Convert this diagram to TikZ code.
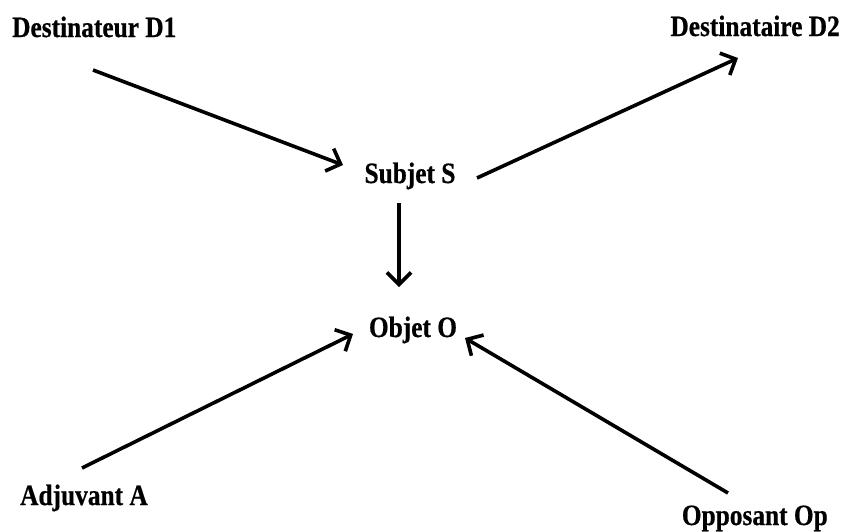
\documentclass[tikz,border=0pt]{standalone}
\usepackage{fontspec}
\usetikzlibrary{arrows.meta}
\newfontfamily\labfont[FakeStretch=0.86,FakeBold=0.6]{Liberation Serif}
\tikzset{
  actant/.style={inner sep=0pt, font=\labfont\bfseries\fontsize{29.5}{31}\selectfont},
  rel/.style={line width=3.6pt, -{Straight Barb[length=12pt,width=24pt,line width=3.6pt]}},
}
\begin{document}
\begin{tikzpicture}[x=1pt,y=-1pt]
  \useasboundingbox (0,0) rectangle (844,531);

  % actants of the model
  \node[actant, anchor=base west] (d1)  at (12,37)   {Destinateur D1};
  \node[actant, anchor=base east] (d2)  at (840,36)  {Destinataire D2};
  \node[actant, anchor=base]      (s)   at (410,183) {Subjet S};
  \node[actant, anchor=base]      (o)   at (413,337) {Objet O};
  \node[actant, anchor=base west] (a)   at (20,505)  {Adjuvant A};
  \node[actant, anchor=base east] (op)  at (828,525) {Opposant Op};

  % free ends of the relations
  \coordinate (d1out) at (93,70);
  \coordinate (sin)   at (343,165);
  \coordinate (sout)  at (477,178);
  \coordinate (d2in)  at (738,58);
  \coordinate (stop)  at (399,203);
  \coordinate (obot)  at (399,287);
  \coordinate (aout)  at (82,468);
  \coordinate (oin1)  at (353,334);
  \coordinate (opout) at (728,493);
  \coordinate (oin2)  at (465,338);

  % relations
  \draw[rel] (d1out) -- (sin);
  \draw[rel] (sout)  -- (d2in);
  \draw[rel] (stop)  -- (obot);
  \draw[rel] (aout)  -- (oin1);
  \draw[rel] (opout) -- (oin2);
\end{tikzpicture}
\end{document}
